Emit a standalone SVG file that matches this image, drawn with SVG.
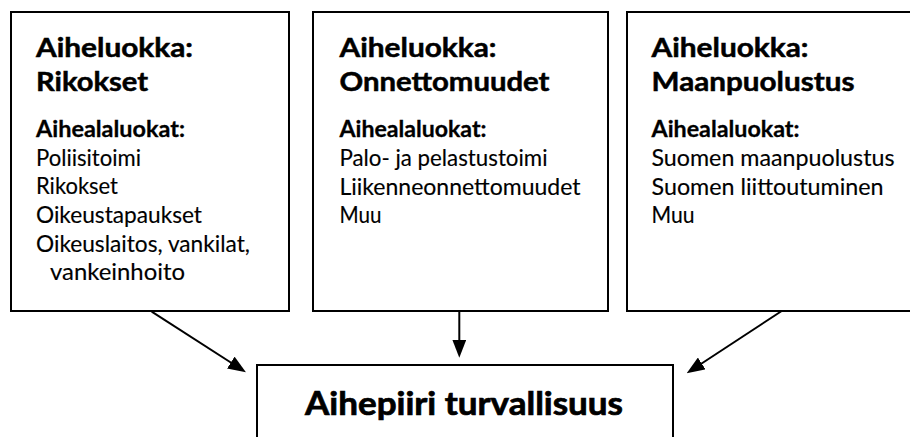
<svg xmlns="http://www.w3.org/2000/svg" width="910" height="437" viewBox="0 0 910 437">
<defs>
<style>
.box{fill:#fff;stroke:#000;stroke-width:2}
.t{font-family:Lato,"Noto Sans","Liberation Sans",sans-serif;fill:#000}
.h{font-weight:bold;font-size:26.5px;stroke:#000;stroke-width:0.5}
.s{font-weight:bold;font-size:22.5px;stroke:#000;stroke-width:0.3}
.l{font-size:22.5px;stroke:#000;stroke-width:0.15}
.m{font-weight:bold;font-size:32px;stroke:#000;stroke-width:0.7}
.conn{fill:none;stroke:#000;stroke-width:2}
</style>
<marker id="arr" markerUnits="userSpaceOnUse" markerWidth="18" markerHeight="14" refX="12" refY="7" orient="auto">
<path d="M0,0 L18,7 L0,14 z" fill="#000"/>
</marker>
</defs>
<rect width="910" height="437" fill="#fff"/>
<g id="node-rikokset">
<rect class="box" x="11" y="12" width="278" height="299"/>
<text class="t h" x="36" y="57.3" textLength="157" lengthAdjust="spacingAndGlyphs">Aiheluokka:</text>
<text class="t h" x="36" y="90.7" textLength="112" lengthAdjust="spacingAndGlyphs">Rikokset</text>
<text class="t s" x="36" y="136.7" textLength="149" lengthAdjust="spacingAndGlyphs">Aihealaluokat:</text>
<text class="t l" x="36" y="165.7" textLength="105" lengthAdjust="spacingAndGlyphs">Poliisitoimi</text>
<text class="t l" x="36" y="194" textLength="82" lengthAdjust="spacingAndGlyphs">Rikokset</text>
<text class="t l" x="36" y="223" textLength="166" lengthAdjust="spacingAndGlyphs">Oikeustapaukset</text>
<text class="t l" x="36" y="251.5" textLength="214" lengthAdjust="spacingAndGlyphs">Oikeuslaitos, vankilat,</text>
<text class="t l" x="50" y="280" textLength="135" lengthAdjust="spacingAndGlyphs">vankeinhoito</text>
</g>
<g id="node-onnettomuudet">
<rect class="box" x="313" y="12" width="295" height="299"/>
<text class="t h" x="339.5" y="57.3" textLength="157" lengthAdjust="spacingAndGlyphs">Aiheluokka:</text>
<text class="t h" x="339.5" y="90.7" textLength="210" lengthAdjust="spacingAndGlyphs">Onnettomuudet</text>
<text class="t s" x="339.5" y="136.7" textLength="147" lengthAdjust="spacingAndGlyphs">Aihealaluokat:</text>
<text class="t l" x="339.5" y="166" textLength="208" lengthAdjust="spacingAndGlyphs">Palo- ja pelastustoimi</text>
<text class="t l" x="339.5" y="194.5" textLength="241" lengthAdjust="spacingAndGlyphs">Liikenneonnettomuudet</text>
<text class="t l" x="339.5" y="223" textLength="42" lengthAdjust="spacingAndGlyphs">Muu</text>
</g>
<g id="node-maanpuolustus">
<rect class="box" x="627" y="12" width="295" height="299"/>
<text class="t h" x="651.5" y="57.3" textLength="157" lengthAdjust="spacingAndGlyphs">Aiheluokka:</text>
<text class="t h" x="651.5" y="90.7" textLength="203" lengthAdjust="spacingAndGlyphs">Maanpuolustus</text>
<text class="t s" x="651.5" y="136.7" textLength="148" lengthAdjust="spacingAndGlyphs">Aihealaluokat:</text>
<text class="t l" x="651.5" y="166" textLength="243" lengthAdjust="spacingAndGlyphs">Suomen maanpuolustus</text>
<text class="t l" x="651.5" y="194.5" textLength="232" lengthAdjust="spacingAndGlyphs">Suomen liittoutuminen</text>
<text class="t l" x="651.5" y="223" textLength="43" lengthAdjust="spacingAndGlyphs">Muu</text>
</g>
<g id="node-turvallisuus">
<rect class="box" x="257" y="365" width="416" height="100"/>
<text class="t m" x="305" y="415" textLength="318" lengthAdjust="spacingAndGlyphs">Aihepiiri turvallisuus</text>
</g>
<g id="connectors">
<path class="conn" d="M151.7,311.7 L240.9,369" marker-end="url(#arr)"/>
<path class="conn" d="M459.3,311 L459.3,351.7" marker-end="url(#arr)"/>
<path class="conn" d="M781.7,311 L691.7,370" marker-end="url(#arr)"/>
</g>
</svg>
